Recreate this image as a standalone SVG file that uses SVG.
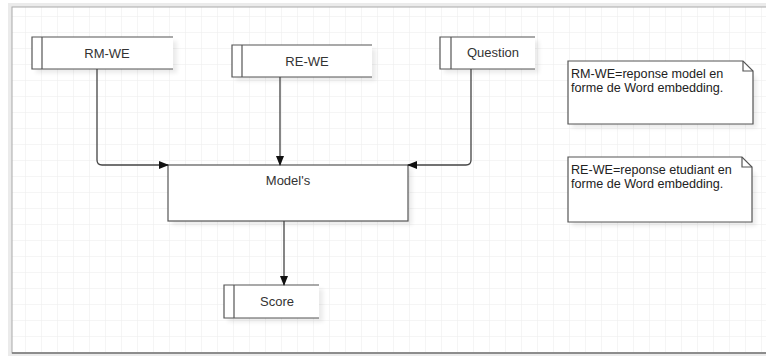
<svg xmlns="http://www.w3.org/2000/svg" width="766" height="356" viewBox="0 0 766 356">
<defs>
<pattern id="grid" x="9" y="0" width="16" height="16" patternUnits="userSpaceOnUse">
<path d="M0 0H16M0 0V16" fill="none" stroke="#ececec" stroke-width="1"/>
</pattern>
<marker id="arr" markerWidth="10" markerHeight="10" refX="9" refY="5" orient="auto" markerUnits="userSpaceOnUse">
<path d="M0 1L10 5L0 9Z" fill="#111"/>
</marker>
<filter id="sh" x="-10%" y="-10%" width="130%" height="140%">
<feGaussianBlur stdDeviation="2"/>
</filter>
</defs>
<style>
.box{fill:#fff;stroke:#555;stroke-width:1.2}
.open{fill:none;stroke:#555;stroke-width:1.2}
.shadow{fill:#000;opacity:0.08;filter:url(#sh)}
.lbl{font-family:"Liberation Sans",Arial,sans-serif;font-size:13px;fill:#333;text-anchor:middle}
.note{font-family:"Liberation Sans",Arial,sans-serif;font-size:12.6px;fill:#222}
.conn{fill:none;stroke:#444;stroke-width:1.3}
</style>
<rect width="766" height="356" fill="#fff"/>
<rect x="8" y="3" width="770" height="353" fill="#ddd" opacity="0.6"/>
<rect x="12" y="7" width="770" height="346" fill="#fff"/>
<rect x="12" y="7" width="770" height="346" fill="url(#grid)"/>
<rect x="12" y="7" width="770" height="346" fill="none" stroke="#aaa" stroke-width="1"/>
<line x1="12" y1="353" x2="766" y2="353" stroke="#777" stroke-width="1.5"/>

<g id="rm-we">
<rect class="shadow" x="36" y="41" width="141" height="32"/>
<rect x="32" y="37" width="141" height="32" fill="#fff"/>
<path class="open" d="M173 37H32V69H173M42 37V69"/>
<text class="lbl" x="107" y="58">RM-WE</text>
</g>
<g id="re-we">
<rect class="shadow" x="236" y="49" width="140" height="32"/>
<rect x="232" y="45" width="140" height="32" fill="#fff"/>
<path class="open" d="M372 45H232V77H372M242 45V77"/>
<text class="lbl" x="307" y="66">RE-WE</text>
</g>
<g id="question">
<rect class="shadow" x="444" y="41" width="95" height="32"/>
<rect x="440" y="37" width="95" height="32" fill="#fff"/>
<path class="open" d="M535 37H440V69H535M451 37V69"/>
<text class="lbl" x="493" y="57">Question</text>
</g>
<g id="models">
<rect class="shadow" x="172" y="169" width="240" height="56"/>
<rect class="box" x="168" y="165" width="240" height="56"/>
<text class="lbl" x="288" y="185">Model's</text>
</g>
<g id="score">
<rect class="shadow" x="228" y="289" width="95" height="33"/>
<rect x="224" y="285" width="95" height="33" fill="#fff"/>
<path class="open" d="M319 285H224V318H319M234 285V318"/>
<text class="lbl" x="277" y="306">Score</text>
</g>
<g id="note1">
<path class="shadow" d="M572 65H743L757 79V128H572Z"/>
<path class="box" d="M568 61H743L753 71V124H568Z"/>
<path class="open" d="M743 61V71H753"/>
<text class="note" x="571" y="78">RM-WE=reponse model en</text>
<text class="note" x="571" y="92">forme de Word embedding.</text>
</g>
<g id="note2">
<path class="shadow" d="M572 161H742L756 175V226H572Z"/>
<path class="box" d="M568 157H742L752 167V222H568Z"/>
<path class="open" d="M742 157V167H752"/>
<text class="note" x="571" y="174">RE-WE=reponse etudiant en</text>
<text class="note" x="571" y="188">forme de Word embedding.</text>
</g>
<g id="connectors">
<path class="conn" d="M97 69V160Q97 165 102 165H168" marker-end="url(#arr)"/>
<path class="conn" d="M280 77V165" marker-end="url(#arr)"/>
<path class="conn" d="M471 69V160Q471 165 466 165H408" marker-end="url(#arr)"/>
<path class="conn" d="M284 221V285" marker-end="url(#arr)"/>
</g>
</svg>
